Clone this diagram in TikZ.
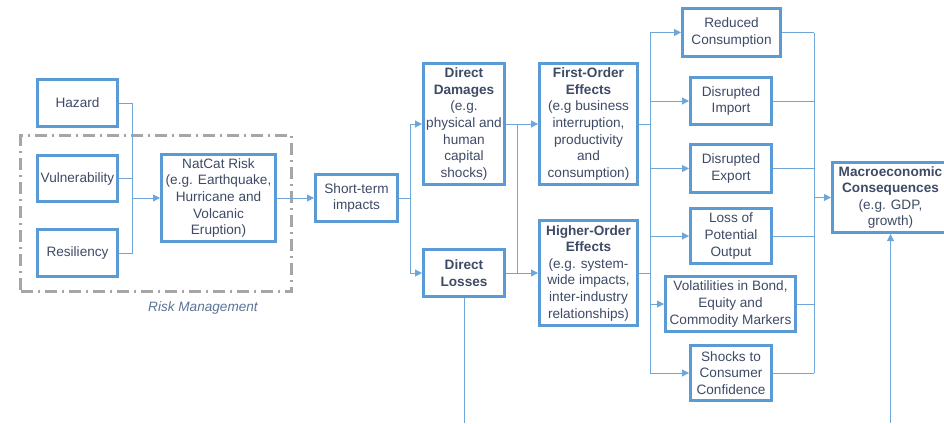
\documentclass[tikz,border=0pt]{standalone}
\usepackage{fontspec}
\setmainfont{Liberation Sans}
\usetikzlibrary{arrows.meta}
\definecolor{boxblue}{HTML}{5B9BD5}
\definecolor{linkblue}{HTML}{6FA6DA}
\definecolor{txt}{HTML}{3E4A66}
\definecolor{rmgrey}{HTML}{A6A6A6}
\definecolor{rmtext}{HTML}{5B7396}
\begin{document}
\begin{tikzpicture}[x=1pt,y=-1pt,
  box/.style={draw=boxblue, line width=3pt, fill=white, align=center,
    inner sep=0pt, text=txt, font=\fontsize{13.6}{16.6}\selectfont},
  link/.style={draw=linkblue, line width=1pt},
  arr/.style={link, -{Triangle[length=7pt,width=7pt]}},
  frame/.style={draw=rmgrey, line width=3pt,
    dash pattern=on 12pt off 5pt on 2pt off 5pt, inner sep=0pt},
  bx/.style 2 args={box, minimum width=#1pt, minimum height=#2pt}]
\useasboundingbox (0,0) rectangle (944,423);

% risk management frame
\node[frame, minimum width=271pt, minimum height=156pt] (rmframe) at (156,213.5) {};
\node[text=rmtext, font=\fontsize{13.6}{16.6}\selectfont\itshape] (rmlabel) at (203,308) {Risk Management};

% risk components
\node[bx={80}{47}] (haz) at (77.5,103) {Hazard};
\node[bx={80}{46}] (vul) at (77.5,178.5) {Vulnerability};
\node[bx={80}{47}] (res) at (77.5,253) {Resiliency};
\node[bx={114}{87}] (nat) at (218.5,198) {NatCat Risk\\(e.g. Earthquake,\\Hurricane and\\Volcanic\\Eruption)};

% impacts
\node[bx={82}{47}] (st) at (356.5,198) {Short-term\\impacts};
\node[bx={81}{121}] (dd) at (464,124) {\textbf{Direct}\\\textbf{Damages}\\(e.g.\\physical and\\human\\capital\\shocks)};
\node[bx={81}{47}] (dl) at (464,273) {\textbf{Direct}\\\textbf{Losses}};
\node[bx={98}{121}] (fo) at (588.5,124) {\textbf{First-Order}\\\textbf{Effects}\\(e.g business\\interruption,\\productivity\\and\\consumption)};
\node[bx={98}{105}] (ho) at (588.5,273) {\textbf{Higher-Order}\\\textbf{Effects}\\(e.g. system-\\wide impacts,\\inter-industry\\relationships)};

% channels
\node[bx={98}{48}] (rc) at (731.5,32.5) {Reduced\\Consumption};
\node[bx={81}{47}] (di) at (731,101) {Disrupted\\Import};
\node[bx={81}{48}] (de) at (731,168.5) {Disrupted\\Export};
\node[bx={81}{55}] (lp) at (731,236) {Loss of\\Potential\\Output};
\node[bx={130}{55}] (vb) at (730.5,304) {Volatilities in Bond,\\Equity and\\Commodity Markers};
\node[bx={81}{55}] (sc) at (731,373) {Shocks to\\Consumer\\Confidence};

% outcome
\node[bx={116}{70}] (mc) at (890.5,197.5) {\textbf{Macroeconomic}\\\textbf{Consequences}\\(e.g. GDP,\\growth)};

% junction points
\coordinate (jL) at (132,198);
\coordinate (jS) at (410,198);
\coordinate (jM) at (517,200);
\coordinate (bL) at (650,200);
\coordinate (bR) at (814,197.5);
\coordinate (lossEnd) at (464,423);
\coordinate (mcFeed) at (890.5,423);

% risk components into NatCat risk
\draw[link] (haz.east) -| (jL);
\draw[link] (res.east) -| (jL);
\draw[link] (vul.east) -- (vul.east -| jL);
\draw[arr] (jL) -- (nat.west);
\draw[arr] (nat.east) -- (st.west);

% short-term split
\draw[link] (st.east) -- (jS);
\draw[arr] (jS) |- (dd.west);
\draw[arr] (jS) |- (dl.west);

% damages and losses into effects
\draw[arr] (dd.east) -- (fo.west);
\draw[arr] (dl.east) -- (ho.west);
\draw[link] (dd.east -| jM) -- (dl.east -| jM);
\draw[link] (dl.south) -- (lossEnd);

% effects into channels
\draw[link] (fo.east) -- (fo.east -| bL);
\draw[link] (ho.east) -- (ho.east -| bL);
\draw[link] (rc.west -| bL) -- (sc.west -| bL);
\foreach \t in {rc,di,de,lp,vb,sc}{
  \draw[arr] (\t.west -| bL) -- (\t.west);
  \draw[link] (\t.east) -- (\t.east -| bR);
}
\draw[link] (rc.east -| bR) -- (sc.east -| bR);
\draw[arr] (bR) -- (mc.west);
\draw[arr] (mcFeed) -- (mc.south);
\end{tikzpicture}
\end{document}
